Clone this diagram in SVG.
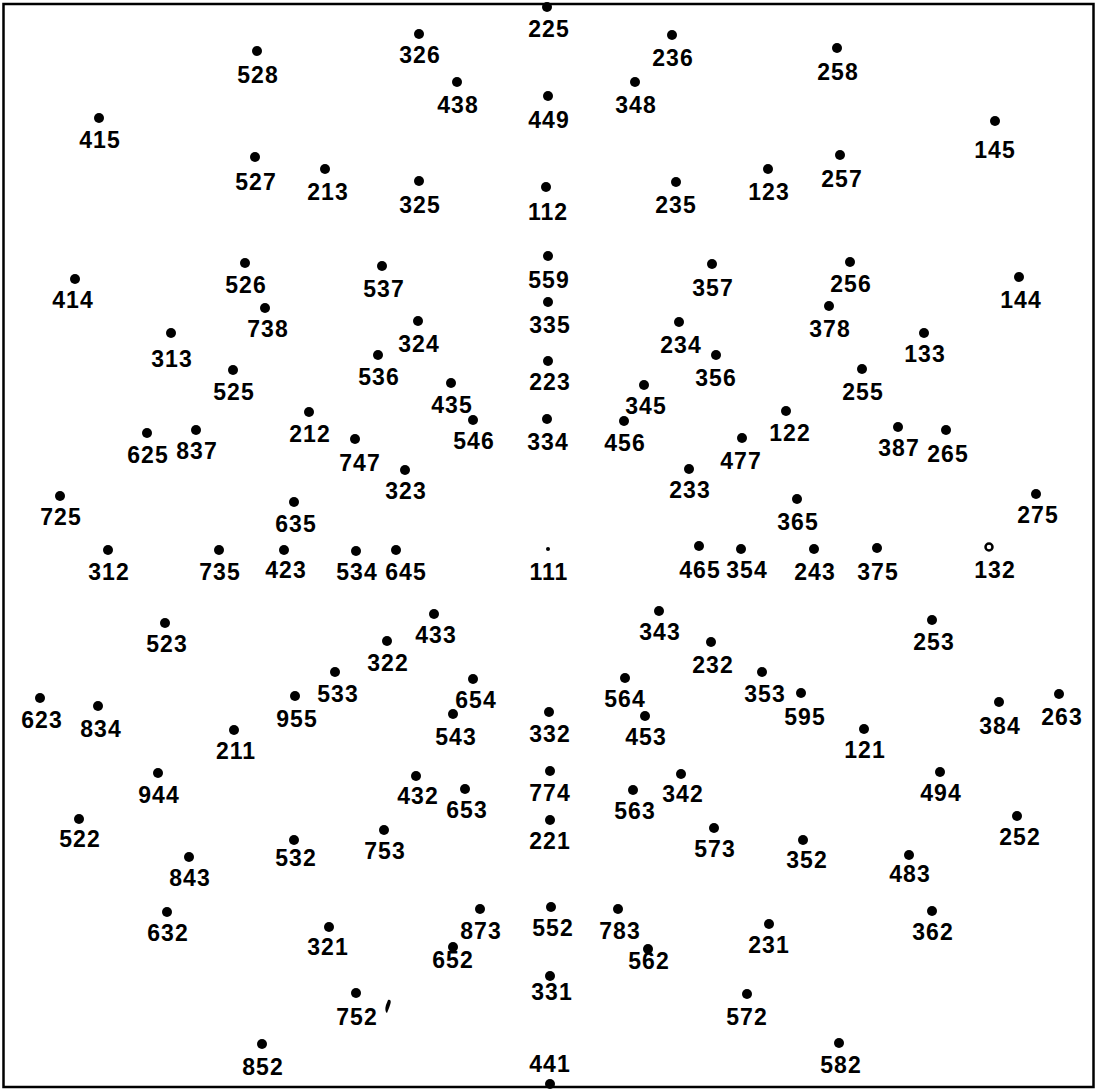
<svg xmlns="http://www.w3.org/2000/svg" width="1102" height="1089" viewBox="0 0 1102 1089">
<style>
circle{fill:#000}
text{font-family:"Liberation Sans",Arial,sans-serif;font-weight:bold;font-size:23px;letter-spacing:1px;text-anchor:middle;fill:#000}
.frame{fill:none;stroke:#000;stroke-width:2.5}
</style>
<rect class="frame" x="3.5" y="4" width="1090" height="1083"/>
<g id="connectors"/>
<g id="n225"><circle cx="547" cy="7" r="5"/><text x="549" y="37">225</text></g>
<g id="n326"><circle cx="419" cy="34" r="5"/><text x="420" y="63">326</text></g>
<g id="n528"><circle cx="257" cy="51" r="5"/><text x="258" y="83">528</text></g>
<g id="n236"><circle cx="672" cy="35" r="5"/><text x="673" y="66">236</text></g>
<g id="n258"><circle cx="837" cy="48" r="5"/><text x="838" y="80">258</text></g>
<g id="n438"><circle cx="457" cy="82" r="5"/><text x="458" y="113">438</text></g>
<g id="n449"><circle cx="548" cy="96" r="5"/><text x="549" y="128">449</text></g>
<g id="n348"><circle cx="635" cy="82" r="5"/><text x="636" y="113">348</text></g>
<g id="n415"><circle cx="99" cy="118" r="5"/><text x="100" y="148">415</text></g>
<g id="n145"><circle cx="995" cy="121" r="5"/><text x="995" y="158">145</text></g>
<g id="n527"><circle cx="255" cy="157" r="5"/><text x="256" y="190">527</text></g>
<g id="n213"><circle cx="325" cy="169" r="5"/><text x="328" y="200">213</text></g>
<g id="n325"><circle cx="419" cy="181" r="5"/><text x="420" y="213">325</text></g>
<g id="n112"><circle cx="546" cy="187" r="5"/><text x="548" y="220">112</text></g>
<g id="n235"><circle cx="676" cy="182" r="5"/><text x="676" y="213">235</text></g>
<g id="n123"><circle cx="768" cy="169" r="5"/><text x="769" y="200">123</text></g>
<g id="n257"><circle cx="840" cy="155" r="5"/><text x="842" y="187">257</text></g>
<g id="n414"><circle cx="75" cy="279" r="5"/><text x="73" y="308">414</text></g>
<g id="n526"><circle cx="245" cy="263" r="5"/><text x="246" y="293">526</text></g>
<g id="n537"><circle cx="382" cy="266" r="5"/><text x="384" y="297">537</text></g>
<g id="n559"><circle cx="548" cy="256" r="5"/><text x="549" y="288">559</text></g>
<g id="n357"><circle cx="712" cy="264" r="5"/><text x="713" y="296">357</text></g>
<g id="n256"><circle cx="850" cy="262" r="5"/><text x="851" y="292">256</text></g>
<g id="n144"><circle cx="1019" cy="277" r="5"/><text x="1021" y="308">144</text></g>
<g id="n738"><circle cx="265" cy="308" r="5"/><text x="268" y="337">738</text></g>
<g id="n313"><circle cx="171" cy="333" r="5"/><text x="172" y="367">313</text></g>
<g id="n324"><circle cx="418" cy="321" r="5"/><text x="419" y="352">324</text></g>
<g id="n335"><circle cx="548" cy="302" r="5"/><text x="550" y="333">335</text></g>
<g id="n234"><circle cx="679" cy="322" r="5"/><text x="681" y="353">234</text></g>
<g id="n378"><circle cx="829" cy="306" r="5"/><text x="830" y="337">378</text></g>
<g id="n133"><circle cx="924" cy="333" r="5"/><text x="925" y="362">133</text></g>
<g id="n536"><circle cx="378" cy="355" r="5"/><text x="379" y="385">536</text></g>
<g id="n356"><circle cx="716" cy="355" r="5"/><text x="716" y="386">356</text></g>
<g id="n223"><circle cx="548" cy="361" r="5"/><text x="550" y="390">223</text></g>
<g id="n525"><circle cx="233" cy="370" r="5"/><text x="234" y="400">525</text></g>
<g id="n435"><circle cx="451" cy="383" r="5"/><text x="452" y="413">435</text></g>
<g id="n345"><circle cx="644" cy="385" r="5"/><text x="646" y="414">345</text></g>
<g id="n255"><circle cx="862" cy="369" r="5"/><text x="863" y="400">255</text></g>
<g id="n212"><circle cx="309" cy="412" r="5"/><text x="310" y="442">212</text></g>
<g id="n546"><circle cx="473" cy="420" r="5"/><text x="474" y="449">546</text></g>
<g id="n334"><circle cx="547" cy="419" r="5"/><text x="548" y="450">334</text></g>
<g id="n456"><circle cx="624" cy="421" r="5"/><text x="625" y="451">456</text></g>
<g id="n122"><circle cx="786" cy="411" r="5"/><text x="790" y="441">122</text></g>
<g id="n387"><circle cx="898" cy="427" r="5"/><text x="899" y="456">387</text></g>
<g id="n265"><circle cx="946" cy="430" r="5"/><text x="948" y="462">265</text></g>
<g id="n625"><circle cx="147" cy="433" r="5"/><text x="148" y="463">625</text></g>
<g id="n837"><circle cx="196" cy="430" r="5"/><text x="197" y="459">837</text></g>
<g id="n747"><circle cx="355" cy="439" r="5"/><text x="360" y="471">747</text></g>
<g id="n477"><circle cx="742" cy="438" r="5"/><text x="741" y="469">477</text></g>
<g id="n323"><circle cx="405" cy="470" r="5"/><text x="406" y="499">323</text></g>
<g id="n233"><circle cx="689" cy="469" r="5"/><text x="690" y="498">233</text></g>
<g id="n725"><circle cx="60" cy="496" r="5"/><text x="61" y="525">725</text></g>
<g id="n635"><circle cx="294" cy="502" r="5"/><text x="296" y="532">635</text></g>
<g id="n365"><circle cx="797" cy="499" r="5"/><text x="798" y="530">365</text></g>
<g id="n275"><circle cx="1036" cy="494" r="5"/><text x="1038" y="523">275</text></g>
<g id="n312"><circle cx="108" cy="550" r="5"/><text x="109" y="580">312</text></g>
<g id="n735"><circle cx="219" cy="550" r="5"/><text x="220" y="580">735</text></g>
<g id="n423"><circle cx="284" cy="550" r="5"/><text x="286" y="578">423</text></g>
<g id="n534"><circle cx="356" cy="551" r="5"/><text x="357" y="580">534</text></g>
<g id="n645"><circle cx="396" cy="550" r="5"/><text x="406" y="580">645</text></g>
<g id="n111"><circle cx="548" cy="549" r="2"/><text x="549" y="580">111</text></g>
<g id="n465"><circle cx="699" cy="546" r="5"/><text x="700" y="578">465</text></g>
<g id="n354"><circle cx="741" cy="549" r="5"/><text x="747" y="578">354</text></g>
<g id="n243"><circle cx="814" cy="549" r="5"/><text x="815" y="580">243</text></g>
<g id="n375"><circle cx="877" cy="548" r="5"/><text x="878" y="580">375</text></g>
<g id="n132"><circle cx="989" cy="547" r="3.5" style="fill:#fff;stroke:#000;stroke-width:2.5"/><text x="995" y="578">132</text></g>
<g id="n523"><circle cx="165" cy="623" r="5"/><text x="167" y="652">523</text></g>
<g id="n433"><circle cx="434" cy="614" r="5"/><text x="436" y="643">433</text></g>
<g id="n343"><circle cx="659" cy="611" r="5"/><text x="660" y="640">343</text></g>
<g id="n253"><circle cx="932" cy="620" r="5"/><text x="934" y="650">253</text></g>
<g id="n322"><circle cx="387" cy="641" r="5"/><text x="388" y="671">322</text></g>
<g id="n232"><circle cx="711" cy="642" r="5"/><text x="713" y="673">232</text></g>
<g id="n533"><circle cx="335" cy="672" r="5"/><text x="338" y="702">533</text></g>
<g id="n654"><circle cx="473" cy="679" r="5"/><text x="476" y="708">654</text></g>
<g id="n564"><circle cx="625" cy="678" r="5"/><text x="625" y="707">564</text></g>
<g id="n353"><circle cx="762" cy="672" r="5"/><text x="765" y="702">353</text></g>
<g id="n595"><circle cx="801" cy="693" r="5"/><text x="805" y="725">595</text></g>
<g id="n623"><circle cx="40" cy="698" r="5"/><text x="42" y="728">623</text></g>
<g id="n834"><circle cx="98" cy="706" r="5"/><text x="101" y="737">834</text></g>
<g id="n955"><circle cx="295" cy="696" r="5"/><text x="297" y="727">955</text></g>
<g id="n543"><circle cx="453" cy="714" r="5"/><text x="456" y="745">543</text></g>
<g id="n332"><circle cx="549" cy="712" r="5"/><text x="550" y="742">332</text></g>
<g id="n453"><circle cx="645" cy="716" r="5"/><text x="646" y="745">453</text></g>
<g id="n384"><circle cx="999" cy="702" r="5"/><text x="1000" y="734">384</text></g>
<g id="n263"><circle cx="1059" cy="694" r="5"/><text x="1062" y="725">263</text></g>
<g id="n211"><circle cx="234" cy="730" r="5"/><text x="236" y="759">211</text></g>
<g id="n121"><circle cx="864" cy="729" r="5"/><text x="865" y="758">121</text></g>
<g id="n944"><circle cx="158" cy="773" r="5"/><text x="159" y="803">944</text></g>
<g id="n432"><circle cx="416" cy="776" r="5"/><text x="418" y="804">432</text></g>
<g id="n653"><circle cx="465" cy="789" r="5"/><text x="467" y="818">653</text></g>
<g id="n774"><circle cx="550" cy="771" r="5"/><text x="550" y="801">774</text></g>
<g id="n563"><circle cx="633" cy="790" r="5"/><text x="635" y="819">563</text></g>
<g id="n342"><circle cx="681" cy="774" r="5"/><text x="683" y="802">342</text></g>
<g id="n494"><circle cx="940" cy="772" r="5"/><text x="941" y="801">494</text></g>
<g id="n522"><circle cx="79" cy="819" r="5"/><text x="80" y="847">522</text></g>
<g id="n252"><circle cx="1017" cy="816" r="5"/><text x="1020" y="845">252</text></g>
<g id="n753"><circle cx="384" cy="830" r="5"/><text x="385" y="859">753</text></g>
<g id="n221"><circle cx="550" cy="820" r="5"/><text x="550" y="849">221</text></g>
<g id="n573"><circle cx="714" cy="828" r="5"/><text x="715" y="857">573</text></g>
<g id="n532"><circle cx="294" cy="840" r="5"/><text x="296" y="866">532</text></g>
<g id="n352"><circle cx="803" cy="840" r="5"/><text x="807" y="868">352</text></g>
<g id="n843"><circle cx="189" cy="857" r="5"/><text x="190" y="886">843</text></g>
<g id="n483"><circle cx="909" cy="855" r="5"/><text x="910" y="882">483</text></g>
<g id="n632"><circle cx="167" cy="912" r="5"/><text x="168" y="941">632</text></g>
<g id="n873"><circle cx="480" cy="909" r="5"/><text x="481" y="939">873</text></g>
<g id="n552"><circle cx="551" cy="907" r="5"/><text x="553" y="936">552</text></g>
<g id="n783"><circle cx="618" cy="909" r="5"/><text x="620" y="939">783</text></g>
<g id="n321"><circle cx="329" cy="927" r="5"/><text x="328" y="955">321</text></g>
<g id="n231"><circle cx="769" cy="924" r="5"/><text x="769" y="953">231</text></g>
<g id="n362"><circle cx="932" cy="911" r="5"/><text x="933" y="940">362</text></g>
<g id="n652"><circle cx="453" cy="947" r="5"/><text x="453" y="968">652</text></g>
<g id="n562"><circle cx="648" cy="949" r="5"/><text x="649" y="969">562</text></g>
<g id="n331"><circle cx="550" cy="976" r="5"/><text x="552" y="1000">331</text></g>
<g id="n752"><circle cx="356" cy="993" r="5"/><text x="357" y="1025">752</text><path d="M388 1000 C392 999 391 1003 389 1008 L387 1013 C385 1012 385 1008 386 1005 Z"/></g>
<g id="n572"><circle cx="747" cy="994" r="5"/><text x="747" y="1025">572</text></g>
<g id="n852"><circle cx="262" cy="1044" r="5"/><text x="263" y="1075">852</text></g>
<g id="n441"><circle cx="550" cy="1084" r="5"/><text x="550" y="1072">441</text></g>
<g id="n582"><circle cx="839" cy="1043" r="5"/><text x="841" y="1073">582</text></g>
</svg>
